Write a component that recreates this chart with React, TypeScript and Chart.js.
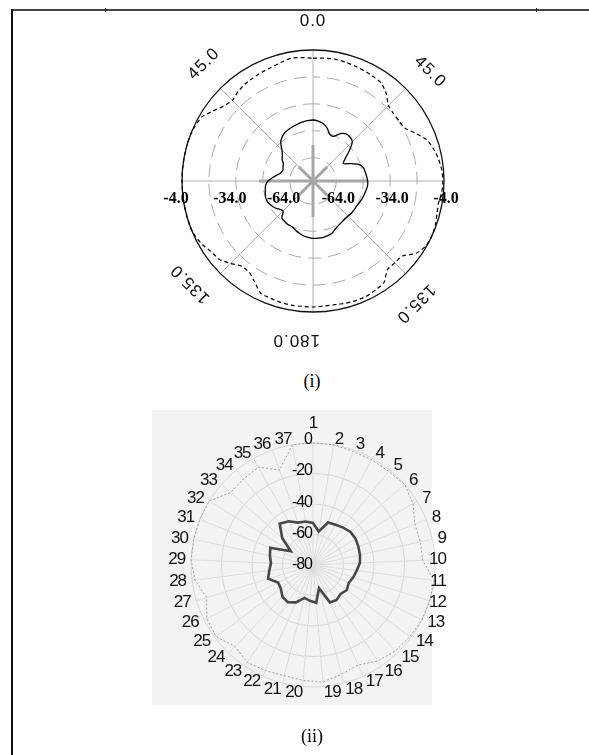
import React, { useEffect, useRef } from "react";
import { Chart, registerables } from "chart.js";

Chart.register(...registerables);

// ---------- Plot (i): measured pattern, sampled every 5 degrees (dB) ----------
const upperAngles: string[] = Array.from({ length: 72 }, (_, i) => String(i * 5));

const upperInner: number[] = [
  -43, -43.5, -44.5, -46.5, -49.5, -49.5, -46.5, -45, -45, -46, -50.5, -55,
  -57.5, -54, -50, -48, -47.5, -47, -46.5, -46.5, -47, -47.5, -48, -48.5,
  -49, -49, -49, -49.5, -49.5, -49, -48.5, -47.5, -46, -45.5, -45, -45,
  -45, -45.5, -46, -47, -48, -49, -49, -49.5, -50, -53.5, -52.5, -51,
  -50, -49.2, -49, -49.5, -50, -50.5, -52, -54.5, -57, -58.6, -59.2, -58.5,
  -58, -56, -54.7, -52.5, -49, -47, -45.8, -45.2, -44.7, -44.1, -43.6, -43.2,
];

const upperOuter: number[] = [
  -8.5, -8.3, -8, -8.3, -8.8, -9.3, -9.8, -10.5, -13.5, -17.5, -18.5, -18.5,
  -18, -14, -9.6, -7.5, -6, -5, -4.6, -5, -6, -5.5, -4.5, -4,
  -4.5, -6.8, -12, -12.5, -12.5, -8, -7, -6.2, -6.2, -6.5, -7, -7,
  -6.8, -6.8, -6.8, -7, -7.5, -8, -12, -15, -15, -12, -9, -8,
  -6, -4.5, -4, -4, -4, -4, -4, -4, -4, -4, -4, -4.5,
  -5.5, -9, -12, -13.5, -12, -11, -10.5, -10, -9.5, -8.5, -7.5, -8,
];

const upperMin = -77;
const upperMax = -4;
const upperRings: number[] = [-64, -49, -34, -19];
const upperRadialLabels: number[] = [-4, -34, -64];
const upperAngleTexts: string[] = ["0.0", "45.0", "45.0", "135.0", "135.0", "180.0"];

// ---------- Plot (ii): 37 sectors ----------
const sectorLabels: string[] = Array.from({ length: 37 }, (_, i) => String(i + 1));

const lowerInner: number[] = [
  -52.4, -57.7, -50.5, -49.8, -48.5, -47.2, -47.2, -47.9, -48.5, -49.2,
  -51.1, -52.4, -53.8, -52.4, -53.8, -52.4, -53.1, -64.3, -55.1, -56.4,
  -57.7, -53.1, -50.5, -51.1, -53.8, -54.4, -49.2, -51.1, -52.4, -51.1,
  -49.8, -62.9, -53.1, -45.2, -47.2, -50.5, -51.1,
];

const lowerOuter: number[] = [
  0, 0, -1, -1, -1, 0, -3, -8, -8, -8,
  0, 0, 0, -1, -2, -4, -8, -6, -3, -4,
  -5, -4, -3, -6, -1, -2, -7, -2, 0, 0,
  0, 0, -8, -7.5, -6.5, -14, 0,
];

const lowerMin = -80;
const lowerMax = 0;
const lowerStep = 20;

// Decorations of the upper polar plot: dashed rings, spokes, star, labels
const polarDecor = {
  id: "polarDecor",
  beforeDatasetsDraw(chart: any) {
    const s = chart.scales.r;
    const ctx = chart.ctx as CanvasRenderingContext2D;
    const cx = s.xCenter;
    const cy = s.yCenter;
    const R = s.getDistanceFromCenterForValue(upperMax);
    ctx.save();

    // spokes every 45 degrees (index step 9 of 72)
    ctx.strokeStyle = "#b2b2b2";
    ctx.lineWidth = 1;
    for (let k = 0; k < 8; k++) {
      const p = s.getPointPosition(k * 9, R);
      ctx.beginPath();
      ctx.moveTo(cx, cy);
      ctx.lineTo(p.x, p.y);
      ctx.stroke();
    }

    // dashed rings
    ctx.strokeStyle = "#a9a9a9";
    ctx.setLineDash([13, 7]);
    for (const v of upperRings) {
      const r = s.getDistanceFromCenterForValue(v);
      ctx.lineDashOffset = 6;
      ctx.beginPath();
      ctx.arc(cx, cy, r, -Math.PI / 2, Math.PI * 1.5);
      ctx.stroke();
    }
    ctx.setLineDash([]);

    // heavier centre star
    ctx.strokeStyle = "#a6a6a6";
    ctx.lineWidth = 3;
    for (let k = 0; k < 8; k++) {
      const len = k === 2 || k === 6 ? 54 : k % 2 === 0 ? 36 : 20;
      const p = s.getPointPosition(k * 9, len);
      ctx.beginPath();
      ctx.moveTo(cx, cy);
      ctx.lineTo(p.x, p.y);
      ctx.stroke();
    }

    // outer circle
    ctx.strokeStyle = "#111";
    ctx.lineWidth = 1.3;
    ctx.beginPath();
    ctx.arc(cx, cy, R, 0, Math.PI * 2);
    ctx.stroke();
    ctx.restore();
  },
  afterDatasetsDraw(chart: any) {
    const s = chart.scales.r;
    const ctx = chart.ctx as CanvasRenderingContext2D;
    const cx = s.xCenter;
    const cy = s.yCenter;
    ctx.save();

    // radial value labels on both sides of the centre
    ctx.font = 'bold 16px "Liberation Serif"';
    ctx.fillStyle = "#000";
    ctx.textAlign = "center";
    ctx.textBaseline = "middle";
    for (const v of upperRadialLabels) {
      const r = s.getDistanceFromCenterForValue(v);
      const txt = v.toFixed(1);
      ctx.fillText(txt, cx - (r + 6), cy + 18);
      ctx.fillText(txt, cx + (r + 2), cy + 18);
    }

    // angle labels around the circle
    const place = [
      { a: 0, rot: 0 },
      { a: -43, rot: -45 },
      { a: 47, rot: 45 },
      { a: -130, rot: -135 },
      { a: 140, rot: 135 },
      { a: 186, rot: 180 },
    ];
    ctx.font = '17px "Liberation Sans"';
    ctx.fillStyle = "#111";
    const LR = 160;
    upperAngleTexts.forEach((t, i) => {
      const a = (place[i].a * Math.PI) / 180;
      const x = cx + LR * Math.sin(a);
      const y = cy - LR * Math.cos(a);
      ctx.save();
      ctx.translate(x, y);
      ctx.rotate((place[i].rot * Math.PI) / 180);
      (ctx as any).letterSpacing = "1px";
      ctx.fillText(t, 0, 0);
      ctx.restore();
    });
    ctx.restore();
  },
};

// Tick values and sector numbers of the lower plot
const lowerLabels = {
  id: "lowerLabels",
  afterDatasetsDraw(chart: any) {
    const s = chart.scales.r;
    const ctx = chart.ctx as CanvasRenderingContext2D;
    const cx = s.xCenter;
    const cy = s.yCenter;
    const R = s.drawingArea;
    ctx.save();
    ctx.fillStyle = "#000";
    ctx.textBaseline = "middle";

    // radial ticks, right-aligned against the vertical axis
    ctx.font = '16px "Liberation Sans"';
    (ctx as any).letterSpacing = "-1px";
    ctx.textAlign = "right";
    for (const t of s.ticks) {
      const r = s.getDistanceFromCenterForValue(t.value);
      ctx.fillText(String(t.value), cx - 1, cy - r * 1.03);
    }

    // sector numbers
    ctx.font = '17px "Liberation Sans"';
    ctx.fillStyle = "#111";
    const labels = chart.data.labels as string[];
    labels.forEach((text, i) => {
      const p = s.getPointPosition(i, R + 6);
      const deg = Math.round((((s.getIndexAngle(i) * 180) / Math.PI) % 360 + 360) % 360);
      const w = ctx.measureText(text).width;
      let x = p.x;
      let y = p.y;
      let align: CanvasTextAlign = "center";
      if (deg !== 0 && deg !== 180) align = deg < 180 ? "left" : "right";
      if (deg === 0) y -= 14;
      if (align === "left" && x + w > cx + R + 11) x = cx + R + 11 - w;
      ctx.textAlign = align;
      ctx.fillText(text, x, y);
    });
    ctx.restore();
  },
};

function UpperPlot() {
  const ref = useRef<HTMLCanvasElement | null>(null);
  useEffect(() => {
    if (!ref.current) return;
    const chart = new Chart(ref.current, {
      type: "radar",
      data: {
        labels: upperAngles,
        datasets: [
          {
            data: upperInner,
            borderColor: "#000",
            borderWidth: 1.3,
            pointRadius: 0,
            fill: false,
            tension: 0.25,
          },
          {
            data: upperOuter,
            borderColor: "#000",
            borderWidth: 1.2,
            borderDash: [4, 3],
            pointRadius: 0,
            fill: false,
            tension: 0.2,
          },
        ],
      },
      options: {
        animation: false,
        responsive: false,
        events: [],
        layout: { padding: { left: 62, right: 62, top: 50, bottom: 50 } },
        plugins: { legend: { display: false }, tooltip: { enabled: false } },
        scales: {
          r: {
            min: upperMin,
            max: upperMax,
            startAngle: 0,
            ticks: { display: false },
            grid: { display: false },
            angleLines: { display: false },
            pointLabels: { display: false },
          },
        },
      },
      plugins: [polarDecor],
    } as any);
    return () => chart.destroy();
  }, []);
  return (
    <canvas
      ref={ref}
      width={386}
      height={362}
      style={{ position: "absolute", left: 120, top: 0, width: 386, height: 362 }}
    />
  );
}

function LowerPlot() {
  const ref = useRef<HTMLCanvasElement | null>(null);
  useEffect(() => {
    if (!ref.current) return;
    const chart = new Chart(ref.current, {
      type: "radar",
      data: {
        labels: sectorLabels,
        datasets: [
          {
            data: lowerOuter,
            borderColor: "#9c9c9c",
            borderWidth: 1,
            borderDash: [2, 2],
            pointRadius: 0,
            fill: false,
          },
          {
            data: lowerInner,
            borderColor: "#474747",
            borderWidth: 2.6,
            pointRadius: 0,
            fill: false,
          },
        ],
      },
      options: {
        animation: false,
        responsive: false,
        events: [],
        layout: { padding: 58 },
        plugins: { legend: { display: false }, tooltip: { enabled: false } },
        scales: {
          r: {
            min: lowerMin,
            max: lowerMax,
            startAngle: 0,
            ticks: { stepSize: lowerStep, display: false },
            grid: { color: "#d6d6d6", circular: true, lineWidth: 1 },
            angleLines: { color: "#dcdcdc", lineWidth: 1 },
            pointLabels: { display: false },
          },
        },
      },
      plugins: [lowerLabels],
    } as any);
    return () => chart.destroy();
  }, []);
  return (
    <canvas
      ref={ref}
      width={360}
      height={360}
      style={{ position: "absolute", left: 133, top: 385, width: 360, height: 360 }}
    />
  );
}

export default function App() {
  const caption: React.CSSProperties = {
    position: "absolute",
    left: 0,
    width: 624,
    textAlign: "center",
    fontFamily: '"Liberation Serif", serif',
    fontSize: 18,
    color: "#000",
    lineHeight: "20px",
  };
  return (
    <div
      style={{
        position: "absolute",
        left: 0,
        top: 0,
        width: 589,
        height: 755,
        background: "#fff",
        overflow: "hidden",
      }}
    >
      <div style={{ position: "absolute", left: 11, top: 9, width: 578, height: 2, background: "#444" }} />
      <div style={{ position: "absolute", left: 105, top: 8, width: 1, height: 4, background: "#222" }} />
      <div style={{ position: "absolute", left: 536, top: 8, width: 1, height: 4, background: "#222" }} />
      <div style={{ position: "absolute", left: 11, top: 9, width: 2, height: 746, background: "#111" }} />
      <div style={{ position: "absolute", left: 152, top: 410, width: 280, height: 295, background: "#f3f3f3" }} />
      <UpperPlot />
      <div style={{ ...caption, top: 371 }}>(i)</div>
      <LowerPlot />
      <div style={{ ...caption, top: 726 }}>(ii)</div>
    </div>
  );
}
